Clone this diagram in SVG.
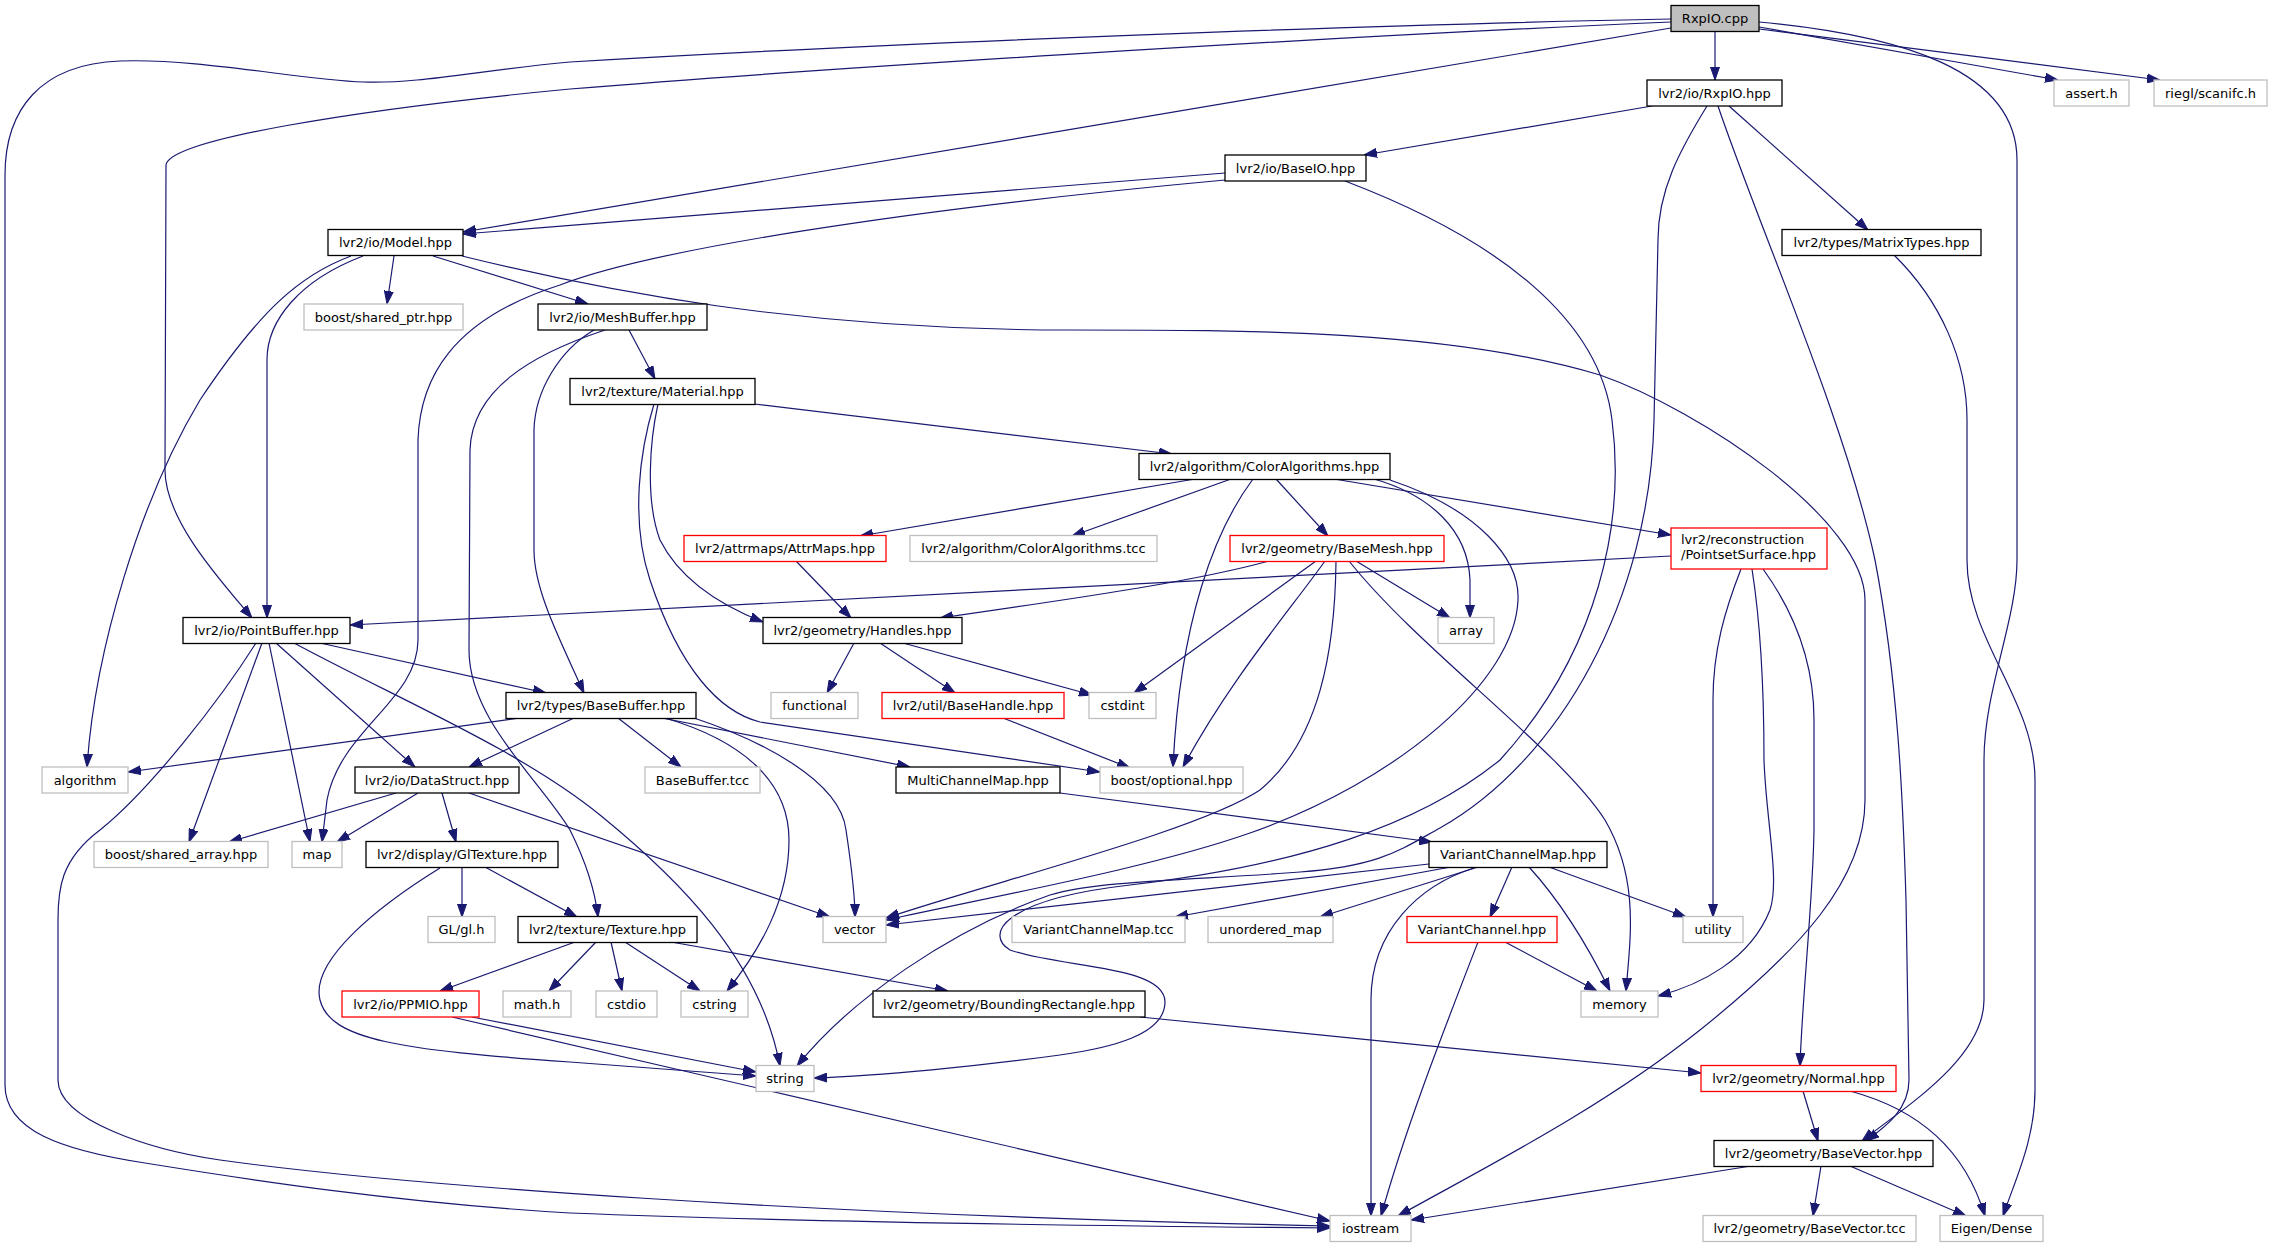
<svg xmlns="http://www.w3.org/2000/svg" width="2273" height="1247" viewBox="0 0 2273 1247">
<style>
.node rect{fill:#fff;stroke:#000;stroke-width:1.3}
.node.g rect{stroke:#bfbfbf}
.node.r rect{stroke:#ff0000}
.node.root rect{fill:#bfbfbf}
.node text{font-family:"DejaVu Sans","Liberation Sans",sans-serif;font-size:13px;text-anchor:middle;fill:#000}
#edges path{fill:none;stroke:#191970;stroke-width:1.2;marker-end:url(#a)}
</style>
<defs>
<marker id="a" viewBox="0 0 13 10" refX="13" refY="5" markerWidth="13" markerHeight="10" markerUnits="userSpaceOnUse" orient="auto"><path d="M0,0.5 L13,5 L0,9.5 z" fill="#191970" stroke="#191970" stroke-width="1"/></marker>
</defs>
<rect width="2273" height="1247" fill="#fff"/>
<g id="edges">
<path d="M1671,19 C1400,24 900,42 570,62 C480,70 420,84 363,82 C300,80 200,58 120,61 C40,64 5,110 5,175 L5,1085 C5,1130 60,1150 145,1163 C250,1180 400,1203 570,1213 C800,1222 1100,1226 1330,1228"/>
<path d="M1671,22 C1300,38 800,70 570,89 C350,110 170,140 166,165 L165,470 C165,520 220,580 252,618"/>
<path d="M1671,28 L463,232"/>
<path d="M1715,31 L1715,80"/>
<path d="M1759,27 L2058,80"/>
<path d="M1759,29 L2160,80"/>
<path d="M1759,22 C1900,35 2017,70 2017,160 L2017,560 C2017,620 1984,690 1984,760 L1984,1000 C1984,1060 1900,1110 1862,1141"/>
<path d="M1652,106 L1364,155"/>
<path d="M1729,106 L1868,230"/>
<path d="M1718,106 C1760,230 1845,420 1875,560 C1898,680 1903,800 1906,900 L1909,1080 C1909,1110 1885,1127 1866,1141"/>
<path d="M1707,106 C1680,150 1658,190 1658,240 L1654,420 C1650,600 1560,760 1440,828 C1400,850 1380,866 1300,872 C1200,880 1100,880 1050,895 C950,930 850,1000 797,1066"/>
<path d="M1345,181 C1500,240 1600,320 1612,420 C1625,520 1600,650 1500,760 C1420,825 1300,865 1130,885 C1000,900 985,935 1010,950 C1060,968 1165,965 1165,1002 C1165,1035 1110,1048 1060,1055 C980,1066 880,1076 814,1078"/>
<path d="M1225,173 L463,234"/>
<path d="M1225,180 C900,210 650,250 560,285 C450,320 420,380 418,440 L418,640 C418,700 340,730 327,800 L322,842"/>
<path d="M394,256 L387,304"/>
<path d="M433,256 L588,304"/>
<path d="M363,256 C300,280 267,320 267,360 L267,618"/>
<path d="M351,256 C300,275 260,310 200,400 C140,500 95,650 87,767"/>
<path d="M462,256 C600,290 800,330 1069,330 C1250,330 1450,330 1600,375 C1700,410 1865,520 1865,600 L1865,800 C1865,880 1800,950 1700,1030 C1600,1110 1480,1170 1398,1216"/>
<path d="M629,330 L655,379"/>
<path d="M605,330 C530,355 472,390 470,450 L469,650 C469,720 540,780 570,830 C585,860 595,890 598,917"/>
<path d="M594,330 C560,350 535,390 534,430 L534,550 C534,590 560,640 584,693"/>
<path d="M754,404 L1172,454"/>
<path d="M658,404 C650,440 645,500 660,540 C680,580 720,605 763,622"/>
<path d="M654,404 C640,450 630,520 650,580 C680,670 720,712 760,722 L1100,772"/>
<path d="M1195,479 L860,536"/>
<path d="M1231,479 L1072,536"/>
<path d="M1253,479 C1215,530 1180,620 1173,767"/>
<path d="M1276,479 L1328,536"/>
<path d="M1334,479 L1671,535"/>
<path d="M1374,479 C1430,495 1468,530 1470,580 L1470,618"/>
<path d="M1390,480 C1480,510 1520,560 1518,600 C1515,680 1400,780 1250,833 C1150,868 1000,895 886,920"/>
<path d="M1269,561 C1200,580 1100,595 940,618"/>
<path d="M1671,556 L350,625"/>
<path d="M1316,561 L1134,693"/>
<path d="M1325,561 C1290,610 1230,680 1183,767"/>
<path d="M1336,561 C1335,650 1320,740 1260,790 C1200,830 1000,880 886,918"/>
<path d="M1356,561 L1450,618"/>
<path d="M1349,561 C1420,650 1560,750 1605,820 C1640,880 1630,940 1626,991"/>
<path d="M796,561 L851,618"/>
<path d="M854,643 L827,693"/>
<path d="M880,643 L955,693"/>
<path d="M903,643 L1092,695"/>
<path d="M1003,718 L1130,768"/>
<path d="M1741,569 C1725,610 1713,650 1713,700 L1713,917"/>
<path d="M1752,569 C1760,620 1764,690 1764,760 C1766,820 1780,880 1770,910 C1750,960 1700,985 1658,996"/>
<path d="M1763,569 C1800,620 1814,670 1814,720 L1814,830 C1813,900 1802,1000 1800,1066"/>
<path d="M320,643 L546,693"/>
<path d="M276,643 L415,767"/>
<path d="M262,643 L189,842"/>
<path d="M269,643 L310,842"/>
<path d="M256,643 C220,700 150,790 100,830 C60,860 58,890 58,920 L58,1080 C58,1120 150,1150 220,1160 C400,1185 800,1215 1330,1226"/>
<path d="M294,643 C400,700 520,750 600,815 C680,880 760,960 780,1066"/>
<path d="M520,718 L128,772"/>
<path d="M574,718 L469,767"/>
<path d="M618,718 L681,767"/>
<path d="M662,718 L910,767"/>
<path d="M665,718 C740,740 789,780 789,840 C789,900 760,950 727,991"/>
<path d="M694,718 C760,740 840,780 846,830 C852,870 855,900 855,917"/>
<path d="M396,793 L229,842"/>
<path d="M418,793 L337,842"/>
<path d="M442,793 L456,842"/>
<path d="M469,793 L830,917"/>
<path d="M462,867 L462,917"/>
<path d="M485,867 L577,917"/>
<path d="M440,868 C380,905 310,960 320,1000 C330,1040 400,1050 570,1062 L756,1076"/>
<path d="M575,942 L440,991"/>
<path d="M596,942 L549,991"/>
<path d="M611,942 L622,991"/>
<path d="M625,942 L700,991"/>
<path d="M671,942 L948,991"/>
<path d="M472,1017 L756,1072"/>
<path d="M452,1017 L1330,1221"/>
<path d="M1140,1017 L1701,1073"/>
<path d="M1060,793 L1432,842"/>
<path d="M1429,864 L886,925"/>
<path d="M1451,867 L1175,917"/>
<path d="M1478,867 L1320,917"/>
<path d="M1474,868 C1420,885 1371,930 1371,1000 L1371,1216"/>
<path d="M1512,867 L1490,917"/>
<path d="M1529,867 C1550,890 1580,930 1610,991"/>
<path d="M1549,867 L1686,917"/>
<path d="M1505,942 L1597,991"/>
<path d="M1478,942 C1440,1040 1405,1130 1381,1216"/>
<path d="M1803,1091 L1818,1141"/>
<path d="M1850,1091 C1920,1110 1965,1150 1985,1216"/>
<path d="M1751,1166 L1411,1220"/>
<path d="M1821,1166 L1813,1216"/>
<path d="M1850,1166 L1966,1216"/>
<path d="M1894,255 C1940,300 1967,360 1967,420 L1967,560 C1967,640 2035,700 2035,780 L2035,1090 C2035,1140 2015,1180 2003,1216"/>
</g>
<g id="nodes">
<g id="n0" class="node root"><rect x="1671" y="5.5" width="88" height="26"/><text x="1715" y="23">RxpIO.cpp</text></g>
<g id="n1" class="node"><rect x="1647" y="80" width="135" height="26"/><text x="1714.5" y="97.5">lvr2/io/RxpIO.hpp</text></g>
<g id="n2" class="node g"><rect x="2054" y="80" width="75" height="26"/><text x="2091.5" y="97.5">assert.h</text></g>
<g id="n3" class="node g"><rect x="2154" y="80" width="113" height="26"/><text x="2210.5" y="97.5">riegl/scanifc.h</text></g>
<g id="n4" class="node"><rect x="1225" y="155" width="141" height="26"/><text x="1295.5" y="172.5">lvr2/io/BaseIO.hpp</text></g>
<g id="n5" class="node"><rect x="328" y="229.5" width="135" height="26"/><text x="395.5" y="247">lvr2/io/Model.hpp</text></g>
<g id="n6" class="node"><rect x="1782" y="229.5" width="199" height="26"/><text x="1881.5" y="247">lvr2/types/MatrixTypes.hpp</text></g>
<g id="n7" class="node g"><rect x="304" y="304" width="159" height="26"/><text x="383.5" y="321.5">boost/shared_ptr.hpp</text></g>
<g id="n8" class="node"><rect x="538" y="304" width="169" height="26"/><text x="622.5" y="321.5">lvr2/io/MeshBuffer.hpp</text></g>
<g id="n9" class="node"><rect x="570" y="378.5" width="185" height="26"/><text x="662.5" y="396">lvr2/texture/Material.hpp</text></g>
<g id="n10" class="node"><rect x="1139" y="453.5" width="251" height="26"/><text x="1264.5" y="471">lvr2/algorithm/ColorAlgorithms.hpp</text></g>
<g id="n11" class="node r"><rect x="684" y="535.5" width="202" height="26"/><text x="785" y="553">lvr2/attrmaps/AttrMaps.hpp</text></g>
<g id="n12" class="node g"><rect x="910" y="535.5" width="247" height="26"/><text x="1033.5" y="553">lvr2/algorithm/ColorAlgorithms.tcc</text></g>
<g id="n13" class="node r"><rect x="1230" y="535.5" width="214" height="26"/><text x="1337" y="553">lvr2/geometry/BaseMesh.hpp</text></g>
<g id="n14" class="node r"><rect x="1671" y="528" width="156" height="41"/><text x="1681" y="544" style="text-anchor:start">lvr2/reconstruction</text><text x="1681" y="559" style="text-anchor:start">/PointsetSurface.hpp</text></g>
<g id="n15" class="node"><rect x="183" y="617.5" width="167" height="26"/><text x="266.5" y="635">lvr2/io/PointBuffer.hpp</text></g>
<g id="n16" class="node"><rect x="763" y="617.5" width="199" height="26"/><text x="862.5" y="635">lvr2/geometry/Handles.hpp</text></g>
<g id="n17" class="node g"><rect x="1438" y="617.5" width="56" height="26"/><text x="1466" y="635">array</text></g>
<g id="n18" class="node"><rect x="506" y="692.5" width="190" height="26"/><text x="601" y="710">lvr2/types/BaseBuffer.hpp</text></g>
<g id="n19" class="node g"><rect x="771" y="692.5" width="87" height="26"/><text x="814.5" y="710">functional</text></g>
<g id="n20" class="node r"><rect x="882" y="692.5" width="182" height="26"/><text x="973" y="710">lvr2/util/BaseHandle.hpp</text></g>
<g id="n21" class="node g"><rect x="1089" y="692.5" width="67" height="26"/><text x="1122.5" y="710">cstdint</text></g>
<g id="n22" class="node g"><rect x="42" y="767" width="86" height="26"/><text x="85" y="784.5">algorithm</text></g>
<g id="n23" class="node"><rect x="355" y="767" width="164" height="26"/><text x="437" y="784.5">lvr2/io/DataStruct.hpp</text></g>
<g id="n24" class="node g"><rect x="645" y="767" width="115" height="26"/><text x="702.5" y="784.5">BaseBuffer.tcc</text></g>
<g id="n25" class="node"><rect x="896" y="767" width="164" height="26"/><text x="978" y="784.5">MultiChannelMap.hpp</text></g>
<g id="n26" class="node g"><rect x="1100" y="767" width="143" height="26"/><text x="1171.5" y="784.5">boost/optional.hpp</text></g>
<g id="n27" class="node g"><rect x="94" y="841.5" width="174" height="26"/><text x="181" y="859">boost/shared_array.hpp</text></g>
<g id="n28" class="node g"><rect x="292" y="841.5" width="50" height="26"/><text x="317" y="859">map</text></g>
<g id="n29" class="node"><rect x="366" y="841.5" width="192" height="26"/><text x="462" y="859">lvr2/display/GlTexture.hpp</text></g>
<g id="n30" class="node"><rect x="1429" y="841.5" width="178" height="26"/><text x="1518" y="859">VariantChannelMap.hpp</text></g>
<g id="n31" class="node g"><rect x="428" y="916.5" width="67" height="26"/><text x="461.5" y="934">GL/gl.h</text></g>
<g id="n32" class="node"><rect x="518" y="916.5" width="179" height="26"/><text x="607.5" y="934">lvr2/texture/Texture.hpp</text></g>
<g id="n33" class="node g"><rect x="823" y="916.5" width="63" height="26"/><text x="854.5" y="934">vector</text></g>
<g id="n34" class="node g"><rect x="1012" y="916.5" width="173" height="26"/><text x="1098.5" y="934">VariantChannelMap.tcc</text></g>
<g id="n35" class="node g"><rect x="1208" y="916.5" width="125" height="26"/><text x="1270.5" y="934">unordered_map</text></g>
<g id="n36" class="node r"><rect x="1407" y="916.5" width="150" height="26"/><text x="1482" y="934">VariantChannel.hpp</text></g>
<g id="n37" class="node g"><rect x="1683" y="916.5" width="60" height="26"/><text x="1713" y="934">utility</text></g>
<g id="n38" class="node r"><rect x="342" y="991" width="137" height="26"/><text x="410.5" y="1008.5">lvr2/io/PPMIO.hpp</text></g>
<g id="n39" class="node g"><rect x="503" y="991" width="68" height="26"/><text x="537" y="1008.5">math.h</text></g>
<g id="n40" class="node g"><rect x="596" y="991" width="61" height="26"/><text x="626.5" y="1008.5">cstdio</text></g>
<g id="n41" class="node g"><rect x="681" y="991" width="67" height="26"/><text x="714.5" y="1008.5">cstring</text></g>
<g id="n42" class="node"><rect x="873" y="991" width="272" height="26"/><text x="1009" y="1008.5">lvr2/geometry/BoundingRectangle.hpp</text></g>
<g id="n43" class="node g"><rect x="1581" y="991" width="77" height="26"/><text x="1619.5" y="1008.5">memory</text></g>
<g id="n44" class="node g"><rect x="756" y="1065.5" width="58" height="26"/><text x="785" y="1083">string</text></g>
<g id="n45" class="node r"><rect x="1701" y="1065.5" width="195" height="26"/><text x="1798.5" y="1083">lvr2/geometry/Normal.hpp</text></g>
<g id="n46" class="node"><rect x="1714" y="1140.5" width="219" height="26"/><text x="1823.5" y="1158">lvr2/geometry/BaseVector.hpp</text></g>
<g id="n47" class="node g"><rect x="1330" y="1215.5" width="81" height="26"/><text x="1370.5" y="1233">iostream</text></g>
<g id="n48" class="node g"><rect x="1703" y="1215.5" width="213" height="26"/><text x="1809.5" y="1233">lvr2/geometry/BaseVector.tcc</text></g>
<g id="n49" class="node g"><rect x="1940" y="1215.5" width="103" height="26"/><text x="1991.5" y="1233">Eigen/Dense</text></g>
</g>
</svg>
